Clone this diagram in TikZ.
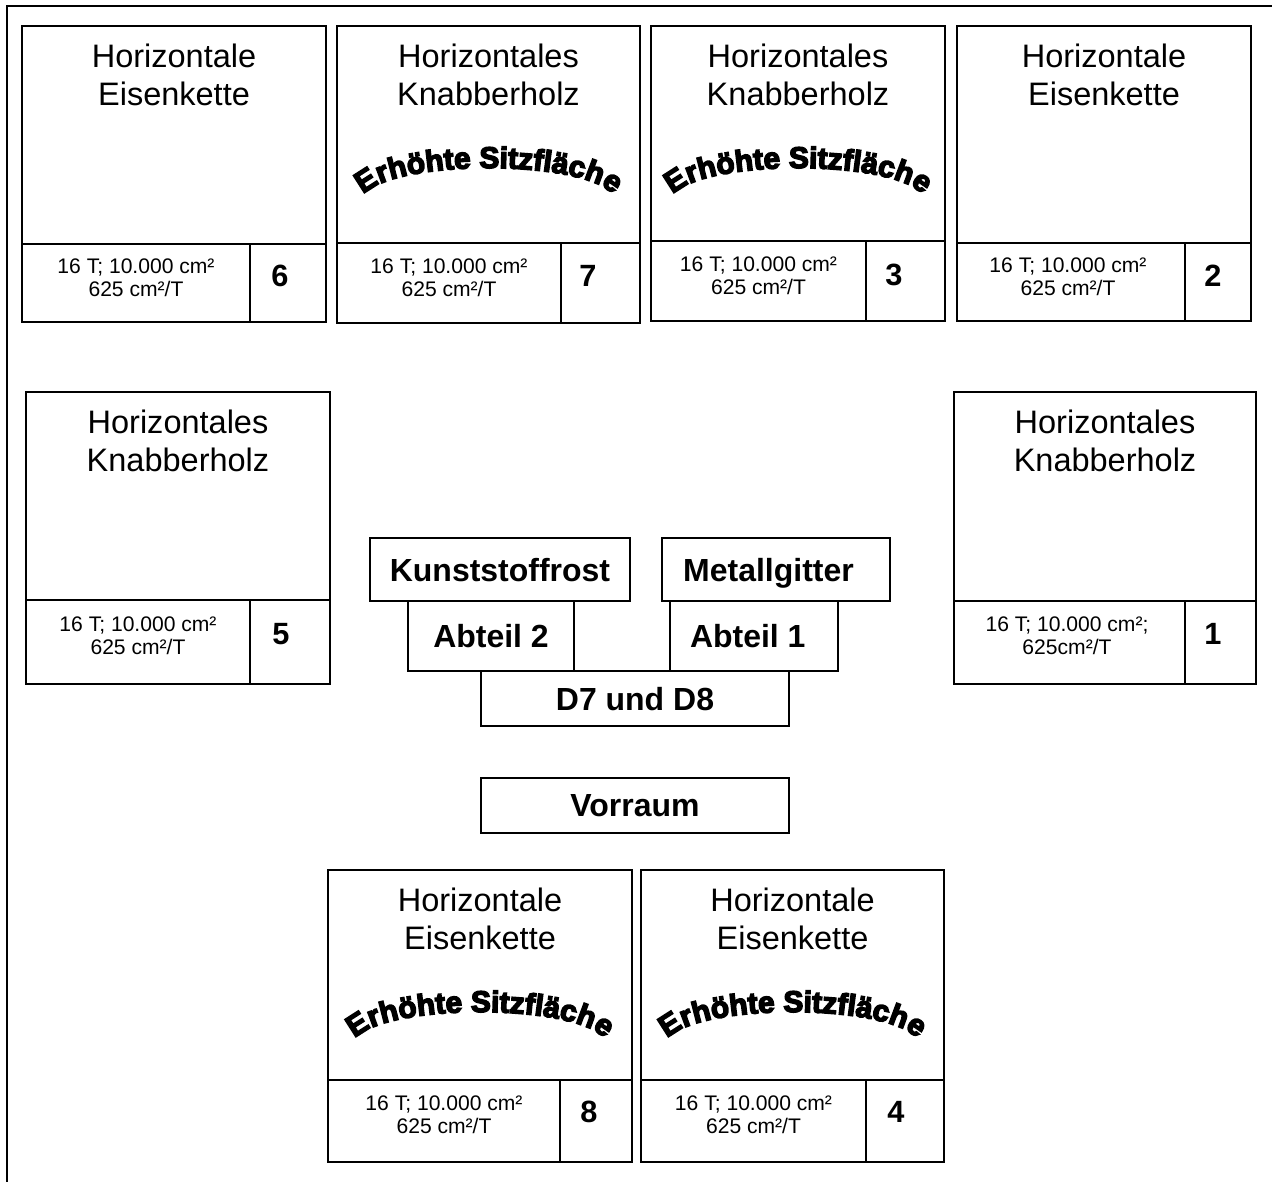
\documentclass[tikz,border=0pt]{standalone}
\usepackage{fontspec}
\setmainfont{Liberation Sans}
\newfontfamily\archfont[FakeBold=5]{Liberation Sans}
\usetikzlibrary{positioning,decorations.text}

\begin{document}
\begin{tikzpicture}[x=0.02cm, y=-0.02cm, line width=1pt,
  title/.style={anchor=north, align=center, inner sep=0pt, font=\fontsize{18.5}{21.5}\selectfont},
  info/.style={align=center, inner sep=0pt, font=\fontsize{12}{13.2}\selectfont},
  num/.style={inner sep=0pt, font=\fontsize{17.5}{20}\selectfont\bfseries},
  zone/.style={draw, inner sep=0pt, text depth=0pt, font=\fontsize{18.2}{21}\selectfont\bfseries},
  seat/.style={decorate, decoration={text along path, text align=center,
    text={|\archfont\bfseries\fontsize{17}{17}\selectfont|Erhöhte Sitzfläche}}}]

\useasboundingbox (0,0) rectangle (1272,1182);
\draw (7,1182) -- (7,6) -- (1272,6);

% top row
\draw (22,26) rectangle (326,322) (22,244) -- (326,244) (250,244) -- (250,322);
\node[title] (t6) at (174,43) {Horizontale\\Eisenkette};
\node[info] (i6) at (136,278) {16 T; 10.000 cm²\\625 cm²/T};
\node[num] (n6) at (280,276) {6};

\draw (337,26) rectangle (640,323) (337,243) -- (640,243) (561,243) -- (561,323);
\node[title] (t7) at (488.5,43) {Horizontales\\Knabberholz};
\path[seat] (363.5,195) .. controls (393.5,159) and (583.5,159) .. (613.5,195);
\node[info] (i7) at (449,278) {16 T; 10.000 cm²\\625 cm²/T};
\node[num] (n7) at (588,276) {7};

\draw (651,26) rectangle (945,321) (651,241) -- (945,241) (866,241) -- (866,321);
\node[title] (t3) at (798,43) {Horizontales\\Knabberholz};
\path[seat] (673,195) .. controls (703,159) and (893,159) .. (923,195);
\node[info] (i3) at (758.5,276) {16 T; 10.000 cm²\\625 cm²/T};
\node[num] (n3) at (894,275) {3};

\draw (957,26) rectangle (1251,321) (957,243) -- (1251,243) (1185,243) -- (1185,321);
\node[title] (t2) at (1104,43) {Horizontale\\Eisenkette};
\node[info] (i2) at (1068,277) {16 T; 10.000 cm²\\625 cm²/T};
\node[num] (n2) at (1213,276) {2};

% middle row
\draw (26,392) rectangle (330,684) (26,600) -- (330,600) (250,600) -- (250,684);
\node[title] (t5) at (178,409) {Horizontales\\Knabberholz};
\node[info] (i5) at (138,636) {16 T; 10.000 cm²\\625 cm²/T};
\node[num] (n5) at (281,634) {5};

\draw (954,392) rectangle (1256,684) (954,601) -- (1256,601) (1185,601) -- (1185,684);
\node[title] (t1) at (1105,409) {Horizontales\\Knabberholz};
\node[info] (i1) at (1067,636) {16 T; 10.000 cm²;\\625cm²/T};
\node[num] (n1) at (1213,634) {1};

% centre
\node[zone, minimum width=5.2cm, minimum height=1.26cm] (frost) at (500,569.5) {Kunststoffrost};
\node[zone, minimum width=4.56cm, minimum height=1.26cm] (grid) at (776,569.5) {\hspace*{-0.3cm}Metallgitter};
\node[zone, minimum width=3.32cm, minimum height=1.4cm] (part2) at (491,636) {Abteil 2};
\node[zone, minimum width=3.36cm, minimum height=1.4cm] (part1) at (754,636) {\hspace*{-0.25cm}Abteil 1};
\node[zone, minimum width=6.16cm, minimum height=1.1cm] (d78) at (635,698.5) {D7 und D8};
\node[zone, minimum width=6.16cm, minimum height=1.1cm, below=1cm of d78] (hall) {Vorraum};

% bottom row
\draw (328,870) rectangle (632,1162) (328,1080) -- (632,1080) (560,1080) -- (560,1162);
\node[title] (t8) at (480,887) {Horizontale\\Eisenkette};
\path[seat] (355,1039) .. controls (385,1003) and (575,1003) .. (605,1039);
\node[info] (i8) at (444,1115) {16 T; 10.000 cm²\\625 cm²/T};
\node[num] (n8) at (589,1112) {8};

\draw (641,870) rectangle (944,1162) (641,1080) -- (944,1080) (866,1080) -- (866,1162);
\node[title] (t4) at (792.5,887) {Horizontale\\Eisenkette};
\path[seat] (667.5,1039) .. controls (697.5,1003) and (887.5,1003) .. (917.5,1039);
\node[info] (i4) at (753.5,1115) {16 T; 10.000 cm²\\625 cm²/T};
\node[num] (n4) at (896,1112) {4};
\end{tikzpicture}
\end{document}
